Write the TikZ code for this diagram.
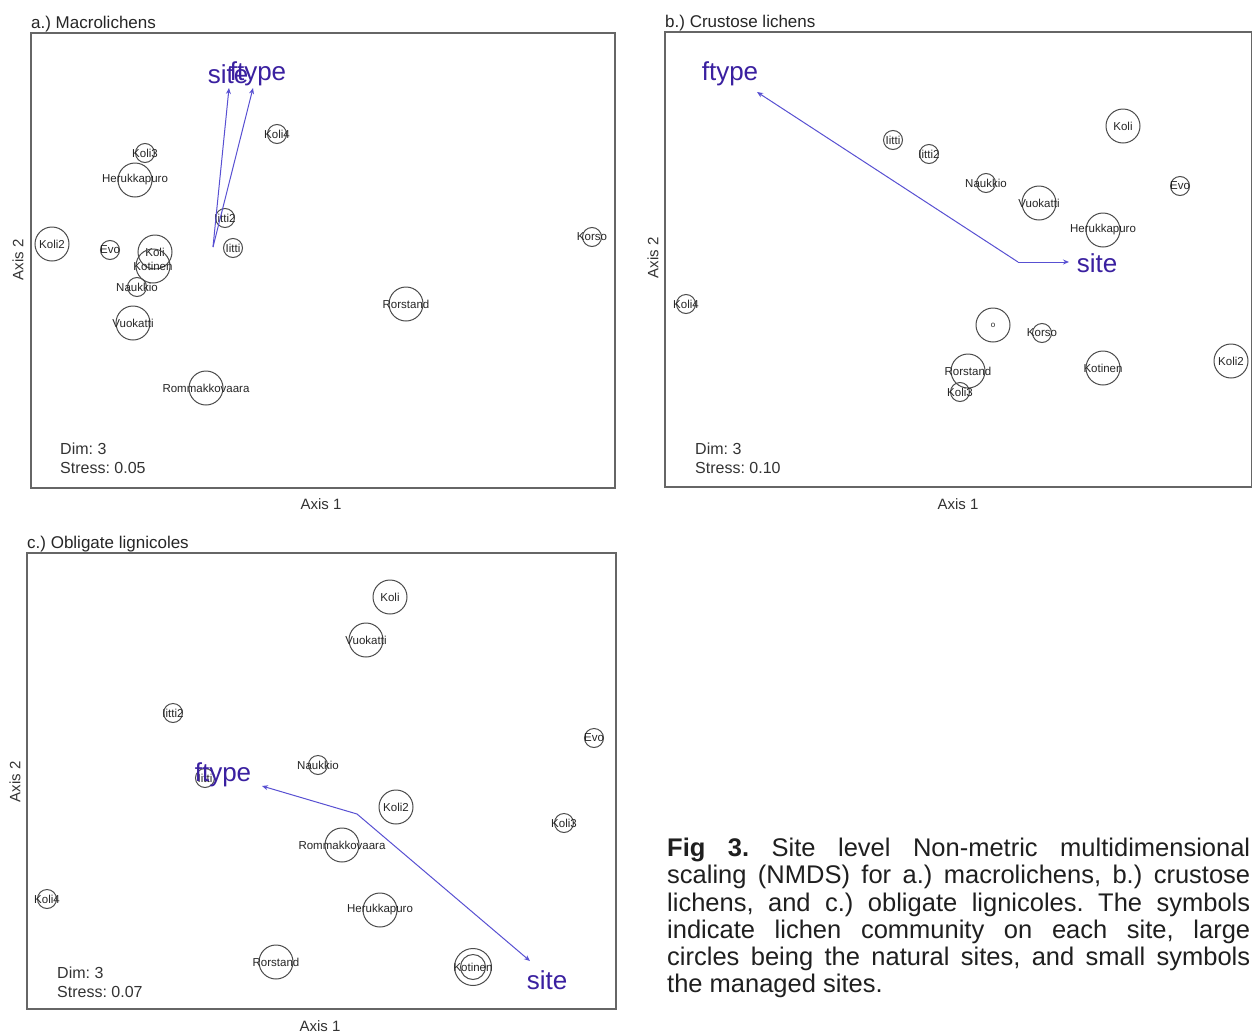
\documentclass[tikz,border=0pt]{standalone}
\usepackage{fontspec}
\setmainfont{Liberation Sans}
\usepackage{tikz}
\usetikzlibrary{arrows.meta}
\frenchspacing

\definecolor{vecline}{RGB}{88,80,210}
\definecolor{vectext}{RGB}{58,32,160}

\tikzset{
  panel/.style={draw=black!60, line width=1.2bp},
  bigsite/.style={circle, draw=black!70, line width=1bp, minimum size=34bp, inner sep=0pt},
  smallsite/.style={circle, draw=black!70, line width=1bp, minimum size=19bp, inner sep=0pt},
  every label/.style={font=\fontsize{11.5bp}{13bp}\selectfont, text=black!85, inner sep=0pt},
  vec/.style={draw=vecline, line width=1bp, -{Stealth[length=6bp,width=5bp]}},
  veclab/.style={text=vectext, font=\fontsize{26bp}{28bp}\selectfont, inner sep=0pt},
  paneltitle/.style={font=\fontsize{17bp}{19bp}\selectfont, anchor=base west, inner sep=0pt, text=black!85},
  axislab/.style={font=\fontsize{15bp}{17bp}\selectfont, inner sep=0pt, text=black!80},
  stress/.style={font=\fontsize{16bp}{19bp}\selectfont, anchor=west, inner sep=0pt, align=left, text=black!80},
}

\begin{document}
\begin{tikzpicture}[x=1bp,y=-1bp]

\fill[white] (0,0) rectangle (1252,1034);
\useasboundingbox (0,0) rectangle (1252,1034);

%% a.) macrolichens
\draw[panel] (31,33) rectangle (615,488);
\node[paneltitle] (aTitle) at (31,28) {a.) Macrolichens};
\node[axislab] (aAx1) at (321,504) {Axis 1};
\node[axislab, rotate=90] (aAx2) at (18,260) {Axis 2};
\node[stress] (aStress) at (60,458) {Dim: 3\\Stress: 0.05};

\node[smallsite, label=center:Koli4] (aKoli4) at (277,134) {};
\node[smallsite, label=center:Koli3] (aKoli3) at (145,153) {};
\node[bigsite, label=center:Herukkapuro] (aHeru) at (135,180) {};
\node[smallsite, label=center:Iitti2] (aIitti2) at (225,218) {};
\node[bigsite, label=center:Koli2] (aKoli2) at (52,244) {};
\node[smallsite, label=center:Evo] (aEvo) at (110,250) {};
\node[bigsite, label=center:Koli] (aKoli) at (155,252) {};
\node[bigsite, label=center:Kotinen] (aKotinen) at (153,266) {};
\node[smallsite, label=center:Iitti] (aIitti) at (233,248) {};
\node[smallsite, label=center:Naukkio] (aNaukkio) at (137,287) {};
\node[bigsite, label=center:Vuokatti] (aVuokatti) at (133,323) {};
\node[bigsite, label=center:Rommakkovaara] (aRomma) at (206,388) {};
\node[bigsite, label=center:Rorstand] (aRorstand) at (406,304) {};
\node[smallsite, label=center:Korso] (aKorso) at (592,237) {};

\coordinate (aOrig) at (213,247);
\coordinate (aSite) at (229,88);
\coordinate (aFtype) at (253,88);
\draw[vec] (aOrig) -- (aSite);
\draw[vec] (aOrig) -- (aFtype);
\node[veclab] (aSiteLab) at (228,74) {site};
\node[veclab] (aFtypeLab) at (258,74) {ftype};

%% b.) crustose lichens
\draw[panel] (665,32) rectangle (1251.5,487);
\node[paneltitle] (bTitle) at (665,27) {b.) Crustose lichens};
\node[axislab] (bAx1) at (958,504) {Axis 1};
\node[axislab, rotate=90] (bAx2) at (653,258) {Axis 2};
\node[stress] (bStress) at (695,458) {Dim: 3\\Stress: 0.10};

\node[smallsite, label=center:Iitti] (bIitti) at (893,140) {};
\node[smallsite, label=center:Iitti2] (bIitti2) at (929,154) {};
\node[smallsite, label=center:Naukkio] (bNaukkio) at (986,183) {};
\node[bigsite, label=center:Vuokatti] (bVuokatti) at (1039,203) {};
\node[bigsite, label=center:Herukkapuro] (bHeru) at (1103,230) {};
\node[bigsite, label=center:Koli] (bKoli) at (1123,126) {};
\node[smallsite, label=center:Evo] (bEvo) at (1180,186) {};
\node[smallsite, label=center:Koli4] (bKoli4) at (686,304) {};
\node[bigsite, label={[font=\fontsize{8bp}{9bp}\selectfont]center:o}] (bSym) at (993,325) {};
\node[smallsite, label=center:Korso] (bKorso) at (1042,333) {};
\node[bigsite, label=center:Rorstand] (bRorstand) at (968,371) {};
\node[smallsite, label=center:Koli3] (bKoli3) at (960,392) {};
\node[bigsite, label=center:Kotinen] (bKotinen) at (1103,368) {};
\node[bigsite, label=center:Koli2] (bKoli2) at (1231,361) {};

\coordinate (bOrig) at (1018,262);
\coordinate (bFtype) at (757,92);
\coordinate (bSite) at (1069,262);
\draw[vec] (bOrig) -- (bFtype);
\draw[vec] (bOrig) -- (bSite);
\node[veclab] (bFtypeLab) at (730,74) {ftype};
\node[veclab] (bSiteLab) at (1097,263) {site};

%% c.) obligate lignicoles
\draw[panel] (27,553) rectangle (616,1009);
\node[paneltitle] (cTitle) at (27,548) {c.) Obligate lignicoles};
\node[axislab] (cAx1) at (320,1026) {Axis 1};
\node[axislab, rotate=90] (cAx2) at (15,782) {Axis 2};
\node[stress] (cStress) at (57,982) {Dim: 3\\Stress: 0.07};

\node[bigsite, label=center:Koli] (cKoli) at (390,597) {};
\node[bigsite, label=center:Vuokatti] (cVuokatti) at (366,640) {};
\node[smallsite, label=center:Iitti2] (cIitti2) at (173,713) {};
\node[smallsite, label=center:Evo] (cEvo) at (594,738) {};
\node[smallsite, label=center:Naukkio] (cNaukkio) at (318,765) {};
\node[smallsite, label=center:Iitti] (cIitti) at (205,778) {};
\node[bigsite, label=center:Koli2] (cKoli2) at (396,807) {};
\node[smallsite, label=center:Koli3] (cKoli3) at (564,823) {};
\node[bigsite, label=center:Rommakkovaara] (cRomma) at (342,845) {};
\node[smallsite, label=center:Koli4] (cKoli4) at (47,899) {};
\node[bigsite, label=center:Herukkapuro] (cHeru) at (380,910) {};
\node[bigsite, label=center:Rorstand] (cRorstand) at (276,962) {};
\node[bigsite, minimum size=37bp, label=center:Kotinen] (cKotinen) at (473,967) {};
\node[smallsite, minimum size=25bp] (cKotinenIn) at (cKotinen) {};

\coordinate (cOrig) at (357,814);
\coordinate (cFtype) at (262,786);
\coordinate (cSite) at (530,961);
\draw[vec] (cOrig) -- (cFtype);
\draw[vec] (cOrig) -- (cSite);
\node[veclab] (cFtypeLab) at (223,775) {ftype};
\node[veclab] (cSiteLab) at (547,980) {site};

%% caption
\node[anchor=north west, text width=583bp, align=justify, inner sep=0pt, text=black!88,
  font=\fontsize{25.5bp}{27.2bp}\selectfont] (caption) at (667,838)
  {\tolerance=10000 \textbf{Fig 3.} Site level Non-metric multidimensional\linebreak
   scaling (NMDS) for a.) macrolichens, b.) crustose\linebreak
   lichens, and c.) obligate lignicoles. The symbols\linebreak
   indicate lichen community on each site, large\linebreak
   circles being the natural sites, and small symbols\linebreak
   the managed sites.};

\end{tikzpicture}
\end{document}
